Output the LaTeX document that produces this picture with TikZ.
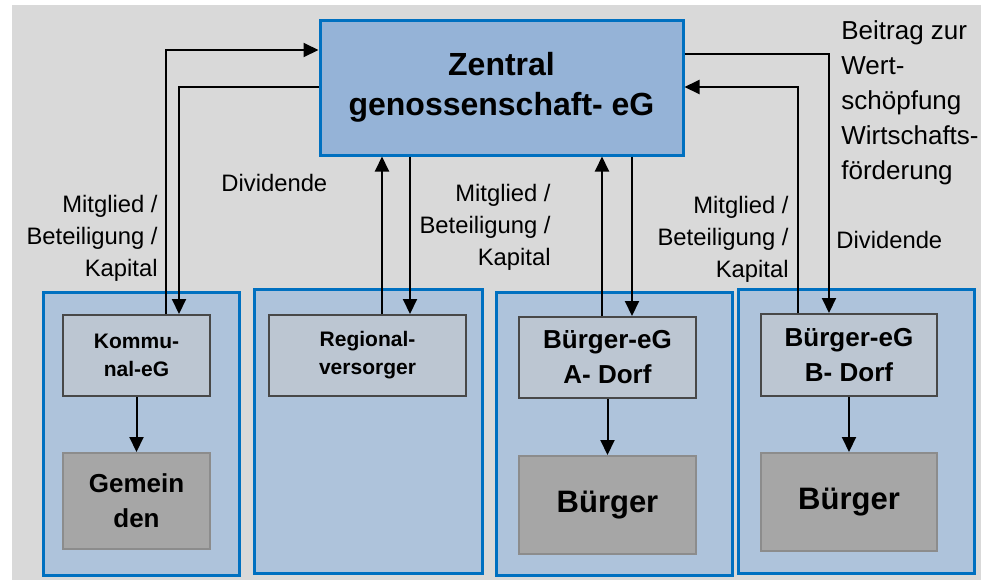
\documentclass[tikz,border=0pt]{standalone}
\usepackage{fontspec}
\setmainfont{Liberation Sans}
\usetikzlibrary{arrows.meta}
\definecolor{bggray}{HTML}{D9D9D9}
\definecolor{egblue}{HTML}{0070C0}
\definecolor{zenfill}{HTML}{95B3D7}
\definecolor{grpfill}{HTML}{AEC3DB}
\definecolor{egfill}{HTML}{BCC6D2}
\definecolor{egline}{HTML}{484848}
\definecolor{pplfill}{HTML}{A6A6A6}
\definecolor{pplline}{HTML}{8C8C8C}
\begin{document}
\begin{tikzpicture}[x=0.5pt, y=-0.5pt,
        zentrale/.style={rectangle, draw=egblue, fill=zenfill, line width=1.5pt, minimum width=181.5pt, minimum height=67.5pt, align=center, inner sep=0pt, font=\fontsize{16}{20}\selectfont\bfseries},
        gruppe/.style={rectangle, draw=egblue, fill=grpfill, line width=1.5pt, inner sep=0pt},
        egbox/.style={rectangle, draw=egline, fill=egfill, line width=1pt, align=center, inner sep=0pt, minimum height=40.5pt},
        pplbox/.style={rectangle, draw=pplline, fill=pplfill, line width=1pt, align=center, inner sep=0pt, font=\bfseries},
        flow/.style={-{Triangle[length=7.5pt, width=7pt]}, line width=1pt},
        lbl/.style={inner sep=0pt, font=\fontsize{11.9}{16}\selectfont}
        ]
      \useasboundingbox (0,0) rectangle (981,580);
      \fill[bggray] (12,5) rectangle (981,580);

      % Gruppen
      \node[gruppe, minimum width=98pt, minimum height=141.5pt] (g1) at (141,433.5) {};
      \node[gruppe, minimum width=114pt, minimum height=142pt] (g2) at (368,431) {};
      \node[gruppe, minimum width=118pt, minimum height=141.5pt] (g3) at (614,433.5) {};
      \node[gruppe, minimum width=118pt, minimum height=142pt] (g4) at (856,431) {};

      \node[zentrale] (zen) at (501.5,87.5) {Zentral\\genossenschaft- eG};

      \node[egbox, minimum width=73.5pt, font=\fontsize{10.5}{14}\selectfont\bfseries] (kom) at (136.5,355.5) {Kommu-\\nal-eG};
      \node[egbox, minimum width=98.5pt, font=\fontsize{10.5}{14}\selectfont\bfseries] (reg) at (367.5,355.5) {Regional-\\versorger};
      \node[egbox, minimum width=88.5pt, font=\fontsize{13}{17.5}\selectfont\bfseries] (bega) at (607.5,357.5) {Bürger-eG\\A- Dorf};
      \node[egbox, minimum width=88pt, minimum height=41pt, font=\fontsize{13}{17.5}\selectfont\bfseries] (begb) at (849,355) {Bürger-eG\\B- Dorf};

      \node[pplbox, minimum width=73.5pt, minimum height=48pt, font=\fontsize{13}{17.5}\selectfont\bfseries] (gem) at (136.5,501) {Gemein\\den};
      \node[pplbox, minimum width=88.5pt, minimum height=49pt, font=\fontsize{15.5}{19}\selectfont\bfseries] (bua) at (607.5,505) {Bürger};
      \node[pplbox, minimum width=88pt, minimum height=49pt, font=\fontsize{15.5}{19}\selectfont\bfseries] (bub) at (849,502) {Bürger};

      % Kapital und Dividende
      \draw[flow] (kom.north -| 166,0) |- (zen.west |- 0,50);
      \draw[flow] (zen.west |- 0,87) -| (kom.north -| 179,0);
      \draw[flow] (reg.north -| 382,0) -- (zen.south -| 382,0);
      \draw[flow] (zen.south -| 410,0) -- (reg.north -| 410,0);
      \draw[flow] (bega.north -| 602,0) -- (zen.south -| 602,0);
      \draw[flow] (zen.south -| 632,0) -- (bega.north -| 632,0);
      \draw[flow] (zen.east |- 0,54) -| (begb.north -| 829,0);
      \draw[flow] (begb.north -| 798,0) |- (zen.east |- 0,87);

      \draw[flow] (kom) -- (gem);
      \draw[flow] (bega) -- (bua);
      \draw[flow] (begb) -- (bub);

      \node[lbl, align=right, anchor=east] (m1) at (158,238) {Mitglied /\\Beteiligung /\\Kapital};
      \node[lbl, anchor=west] (d1) at (221,183) {Dividende};
      \node[lbl, align=right, anchor=east] (m2) at (551,227) {Mitglied /\\Beteiligung /\\Kapital};
      \node[lbl, align=right, anchor=east] (m3) at (789,239) {Mitglied /\\Beteiligung /\\Kapital};
      \node[lbl, anchor=west] (d2) at (836,240) {Dividende};
      \node[lbl, align=left, anchor=west, font=\fontsize{13}{17.5}\selectfont] (wf) at (841,103) {Beitrag zur\\Wert-\\schöpfung\\Wirtschafts-\\förderung};
    \end{tikzpicture}
\end{document}
